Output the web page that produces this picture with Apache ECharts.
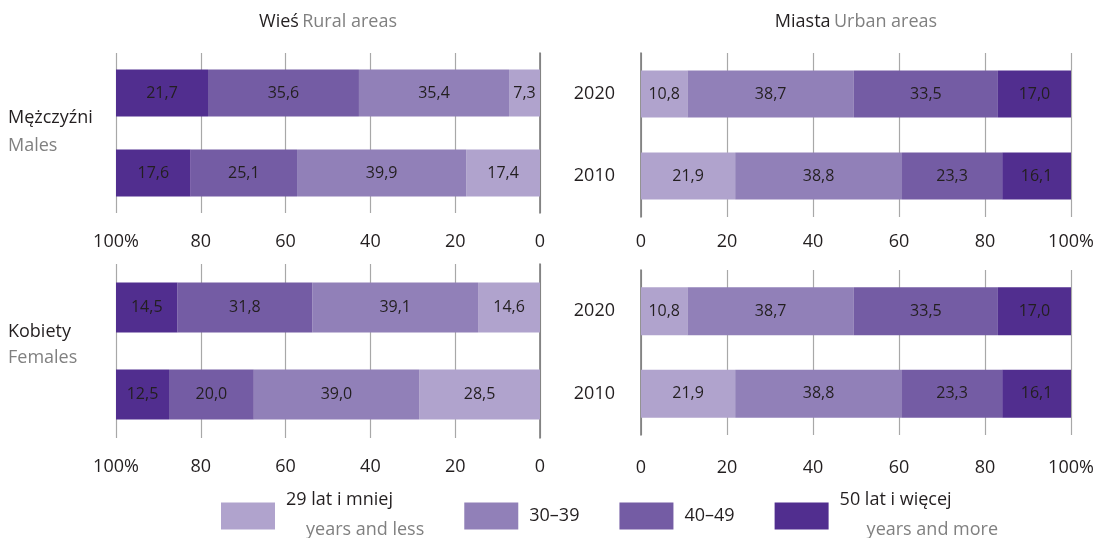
<!DOCTYPE html>
<html><head><meta charset="utf-8">
<script src="https://cdn.jsdelivr.net/npm/echarts@6/dist/echarts.min.js"></script>
<style>html,body{margin:0;padding:0;background:#fff}#c{width:1109px;height:538px}</style>
</head><body><div id="c"></div>
<script>
// ---- data ----
const years = ['2020', '2010'];
const groups = ['29 lat i mniej', '30–39', '40–49', '50 lat i więcej'];
const groupsSub = ['years and less', '', '', 'years and more'];
const colors = ['#b0a3cd', '#9180b8', '#745ca4', '#512e8f'];

// values by age group (29-, 30–39, 40–49, 50+)
const ruralMales2020 = [7.3, 35.4, 35.6, 21.7];
const ruralMales2010 = [17.4, 39.9, 25.1, 17.6];
const ruralFemales2020 = [14.6, 39.1, 31.8, 14.5];
const ruralFemales2010 = [28.5, 39.0, 20.0, 12.5];
const urbanMales2020 = [10.8, 38.7, 33.5, 17.0];
const urbanMales2010 = [21.9, 38.8, 23.3, 16.1];
const urbanFemales2020 = [10.8, 38.7, 33.5, 17.0];
const urbanFemales2010 = [21.9, 38.8, 23.3, 16.1];

const FONT = '"Open Sans", sans-serif';
const DARK = '#231f20';
const GRAY = '#808080';

const panels = [
  { v20: ruralMales2020, v10: ruralMales2010, grid: {left: 116, right: 569, top: 53, height: 160}, inv: true, bw: 47, lblMargin: 20 },
  { v20: urbanMales2020, v10: urbanMales2010, grid: {left: 641, right: 38, top: 53, height: 164}, inv: false, bw: 47, lblMargin: 16 },
  { v20: ruralFemales2020, v10: ruralFemales2010, grid: {left: 116, right: 569, top: 264, height: 174}, inv: true, bw: 50, lblMargin: 20 },
  { v20: urbanFemales2020, v10: urbanFemales2010, grid: {left: 641, right: 38, top: 270, height: 165}, inv: false, bw: 48, lblMargin: 24 }
];

const grid = [], xAxis = [], yAxis = [], series = [];
panels.forEach((p, i) => {
  grid.push(Object.assign({ outerBoundsMode: 'none', containLabel: false }, p.grid));
  xAxis.push({
    type: 'value', gridIndex: i, min: 0, max: 100, interval: 20, inverse: p.inv,
    axisLine: { show: false }, axisTick: { show: false },
    splitLine: { show: true, lineStyle: { color: '#a8a8a8', width: 1.2 } },
    axisLabel: { color: DARK, fontSize: 18, fontFamily: FONT, margin: p.lblMargin,
      formatter: v => v === 100 ? '100%' : String(v) }
  });
  yAxis.push({
    type: 'category', gridIndex: i, data: years, inverse: true,
    position: p.inv ? 'right' : 'left',
    axisLine: { show: true, onZero: false, lineStyle: { color: '#7a7a7a', width: 1.6 } },
    axisTick: { show: false },
    axisLabel: { show: !p.inv, color: DARK, fontSize: 18, fontFamily: FONT, margin: 26 }
  });
  groups.forEach((g, k) => {
    series.push({
      type: 'bar', name: g, xAxisIndex: i, yAxisIndex: i, stack: 'p' + i,
      barWidth: p.bw,
      itemStyle: { color: colors[k] },
      label: { show: true, position: 'inside', color: DARK, fontSize: 16, fontFamily: FONT,
        formatter: q => q.value.toFixed(1).replace('.', ',') },
      emphasis: { disabled: true },
      data: [p.v20[k], p.v10[k]]
    });
  });
});

const legendMap = {};
groups.forEach((g, k) => {
  legendMap[g] = groupsSub[k]
    ? '{a|' + g + '}\n{' + (k === 0 ? 'b' : 'c') + '|' + groupsSub[k] + '}'
    : '{a|' + g + '}';
});

const chart = echarts.init(document.getElementById('c'), null, { renderer: 'canvas' });
chart.setOption({
  animation: false,
  backgroundColor: '#ffffff',
  textStyle: { fontFamily: FONT },
  grid, xAxis, yAxis, series,
  legend: {
    data: groups, left: 221, top: 491, padding: 0, itemGap: 40,
    itemWidth: 54, itemHeight: 27, icon: 'rect', selectedMode: false,
    formatter: n => legendMap[n],
    textStyle: {
      fontFamily: FONT,
      rich: {
        a: { fontSize: 18, color: DARK, lineHeight: 32, padding: [0, 0, 0, 6], fontFamily: FONT },
        b: { fontSize: 18, color: GRAY, lineHeight: 32, padding: [4, 0, 8, 26], fontFamily: FONT },
        c: { fontSize: 18, color: GRAY, lineHeight: 32, padding: [4, 0, 8, 33], fontFamily: FONT }
      }
    }
  },
  graphic: [
    { type: 'text', x: 328, y: 22, style: { text: '{a|Wieś} {b|Rural areas}', align: 'center', verticalAlign: 'middle',
      rich: { a: { fontSize: 18, fill: DARK, fontFamily: FONT }, b: { fontSize: 18, fill: GRAY, fontFamily: FONT } } } },
    { type: 'text', x: 856, y: 22, style: { text: '{a|Miasta} {b|Urban areas}', align: 'center', verticalAlign: 'middle',
      rich: { a: { fontSize: 18, fill: DARK, fontFamily: FONT }, b: { fontSize: 18, fill: GRAY, fontFamily: FONT } } } },
    { type: 'text', x: 8, y: 118, style: { text: 'Mężczyźni', fill: DARK, fontSize: 18, fontFamily: FONT, verticalAlign: 'middle' } },
    { type: 'text', x: 8, y: 146, style: { text: 'Males', fill: GRAY, fontSize: 18, fontFamily: FONT, verticalAlign: 'middle' } },
    { type: 'text', x: 8, y: 332, style: { text: 'Kobiety', fill: DARK, fontSize: 18, fontFamily: FONT, verticalAlign: 'middle' } },
    { type: 'text', x: 8, y: 358, style: { text: 'Females', fill: GRAY, fontSize: 18, fontFamily: FONT, verticalAlign: 'middle' } }
  ]
});
</script>
</body></html>
